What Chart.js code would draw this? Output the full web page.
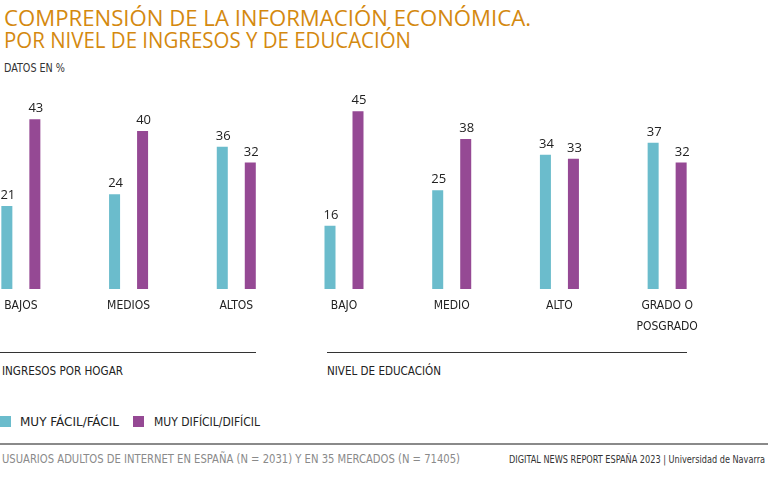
<!DOCTYPE html>
<html>
<head>
<meta charset="utf-8">
<script src="https://cdn.jsdelivr.net/npm/chart.js@4.4.0/dist/chart.umd.min.js"></script>
<style>
  html, body { margin:0; padding:0; background:#fff; }
  body { width:768px; height:480px; position:relative; overflow:hidden;
         font-family:"DejaVu Sans Condensed","Open Sans",sans-serif; }
  .t { position:absolute; white-space:nowrap; transform-origin:0 0; }
  #title1, #title2 { color:#d4890f; font-size:22px; line-height:22px; left:4px; font-family:"Open Sans",sans-serif; }
  #title1 { top:6px; }
  #title2 { top:28px; }
  #sub { left:4px; top:61px; font-size:12px; color:#333; }
  .rule { position:absolute; height:1px; background:#333; top:352px; }
  .grp { top:363px; font-size:13px; color:#222; }
  .sw { position:absolute; width:11px; height:11px; top:416px; }
  .leg { top:414px; font-size:13px; color:#222; }
  #foot { position:absolute; left:0; top:443px; width:768px; height:2px; background:#8a8a8a; }
  #src { left:2px; top:451px; font-size:13px; color:#8a8a8a; }
  #brand { left:509px; top:453px; font-size:11px; color:#333; }
  #wrap { position:absolute; left:-33px; top:80px; width:754px; height:260px; }
</style>
</head>
<body>
<div class="t" id="title1" data-w="527">COMPRENSIÓN DE LA INFORMACIÓN ECONÓMICA.</div>
<div class="t" id="title2" data-w="407">POR NIVEL DE INGRESOS Y DE EDUCACIÓN</div>
<div class="t" id="sub" data-w="61">DATOS EN %</div>

<div id="wrap"><canvas id="c"></canvas></div>

<div class="rule" style="left:0;width:256px"></div>
<div class="rule" style="left:327px;width:360px"></div>
<div class="t grp" style="left:2px" data-w="121">INGRESOS POR HOGAR</div>
<div class="t grp" style="left:327px" data-w="114">NIVEL DE EDUCACIÓN</div>

<div class="sw" style="left:0;background:#6bbccc"></div>
<div class="t leg" style="left:20px" data-w="99">MUY FÁCIL/FÁCIL</div>
<div class="sw" style="left:133px;background:#954994"></div>
<div class="t leg" style="left:154px" data-w="106">MUY DIFÍCIL/DIFÍCIL</div>

<div id="foot"></div>
<div class="t" id="src" data-w="458">USUARIOS ADULTOS DE INTERNET EN ESPAÑA (N = 2031) Y EN 35 MERCADOS (N = 71405)</div>
<div class="t" id="brand" data-w="256">DIGITAL NEWS REPORT ESPAÑA 2023 | Universidad de Navarra</div>

<script>
const categories = ["BAJOS", "MEDIOS", "ALTOS", "BAJO", "MEDIO", "ALTO", ["GRADO O", "POSGRADO"]];
const seriesNames = ["MUY FÁCIL/FÁCIL", "MUY DIFÍCIL/DIFÍCIL"];
const facil = [21, 24, 36, 16, 25, 34, 37];
const dificil = [43, 40, 32, 45, 38, 33, 32];

// fit HTML texts to measured widths
document.querySelectorAll('.t[data-w]').forEach(el => {
  const w = el.getBoundingClientRect().width;
  const target = +el.dataset.w;
  if (w > 0) el.style.transform = 'scaleX(' + (target / w) + ')';
});

const valueLabels = {
  id: 'valueLabels',
  afterDatasetsDraw(chart) {
    const ctx = chart.ctx;
    ctx.save();
    ctx.font = '13px "Open Sans",sans-serif';
    ctx.fillStyle = '#222';
    ctx.textAlign = 'center';
    ctx.textBaseline = 'alphabetic';
    chart.data.datasets.forEach((ds, i) => {
      chart.getDatasetMeta(i).data.forEach((bar, j) => {
        ctx.fillText(String(ds.data[j]), bar.x + 1, bar.y - 7);
      });
    });
    ctx.restore();
  }
};

new Chart(document.getElementById('c'), {
  type: 'bar',
  data: {
    labels: categories,
    datasets: [
      { label: seriesNames[0], data: facil, backgroundColor: '#6bbccc' },
      { label: seriesNames[1], data: dificil, backgroundColor: '#954994' }
    ]
  },
  options: {
    responsive: true,
    maintainAspectRatio: false,
    animation: false,
    layout: { padding: { top: 11.5, left: 0, right: 0, bottom: 0 } },
    datasets: { bar: { categoryPercentage: 0.52, barPercentage: 0.393 } },
    plugins: { legend: { display: false }, tooltip: { enabled: false }, title: { display: false } },
    scales: {
      x: {
        grid: { display: false, drawTicks: false },
        border: { display: false },
        ticks: {
          color: '#222',
          padding: 6,
          maxRotation: 0,
          autoSkip: false,
          font: { family: '"DejaVu Sans Condensed",sans-serif', size: 12, lineHeight: 1.75 }
        },
        afterFit(scale) { scale.height = 51; }
      },
      y: { display: false, min: 0, max: 50 }
    }
  },
  plugins: [valueLabels]
});
</script>
</body>
</html>
